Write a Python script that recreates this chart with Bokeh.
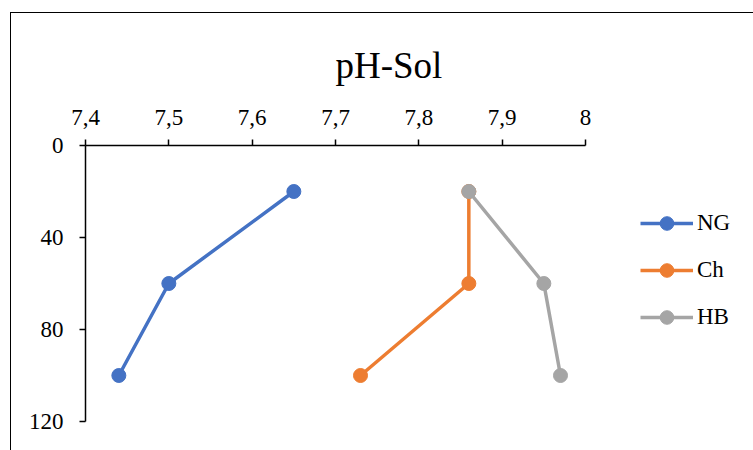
from bokeh.plotting import figure
from bokeh.models import Range1d, Legend, LegendItem, FixedTicker
from bokeh.embed import file_html
from bokeh.resources import INLINE

depth = [20, 60, 100]
ng = [7.65, 7.50, 7.44]
ch = [7.86, 7.86, 7.73]
hb = [7.86, 7.95, 7.97]
series_names = ["NG", "Ch", "HB"]
colors = ["#4472C4", "#ED7D31", "#A5A5A5"]
x_ticks = [7.4, 7.5, 7.6, 7.7, 7.8, 7.9, 8.0]
x_tick_labels = ["7,4", "7,5", "7,6", "7,7", "7,8", "7,9", "8"]
y_ticks = [0, 40, 80, 120]

FONT = "Liberation Serif"

p = figure(width=742, height=437, frame_width=500, frame_height=276,
           output_backend="svg", toolbar_location=None,
           x_range=Range1d(7.4, 8.0), y_range=Range1d(120, 0),
           x_axis_location="above",
           min_border_left=74, min_border_right=168, min_border_top=132, min_border_bottom=29,
           styles={"margin-left": "10px", "margin-top": "12px",
                   "border-left": "1.5px solid black", "border-top": "1.5px solid black"})

p.title.text = "pH-Sol"
p.title.text_font = FONT
p.title.text_font_size = "37px"
p.title.text_font_style = "normal"
p.title.align = "left"
p.title.offset = 250
p.title.standoff = 42
p.title.text_color = "black"

p.outline_line_color = None
p.xgrid.grid_line_color = None
p.ygrid.grid_line_color = None

for ax in (p.xaxis[0], p.yaxis[0]):
    ax.axis_line_color = "black"
    ax.axis_line_width = 1.5
    ax.major_tick_line_color = "black"
    ax.major_tick_line_width = 1.5
    ax.major_tick_out = 6
    ax.major_tick_in = 0
    ax.minor_tick_line_color = None
    ax.major_label_text_font = FONT
    ax.major_label_text_font_size = "23px"
    ax.major_label_text_color = "black"

p.xaxis[0].ticker = FixedTicker(ticks=x_ticks)
p.xaxis[0].major_label_overrides = {t: l for t, l in zip(x_ticks, x_tick_labels)}
p.xaxis[0].major_label_standoff = 15
p.yaxis[0].ticker = FixedTicker(ticks=y_ticks)
p.yaxis[0].major_label_standoff = 16

items = []
for name, vals, c in zip(series_names, [ng, ch, hb], colors):
    r1 = p.line(vals, depth, line_color=c, line_width=3.5)
    r2 = p.scatter(vals, depth, size=14, fill_color=c, line_color=c)
    items.append(LegendItem(label=name, renderers=[r1, r2]))

legend = Legend(items=items, location=(55, 87), orientation="vertical",
                glyph_width=53, glyph_height=34, label_height=34, spacing=13,
                label_standoff=4, padding=0, margin=0,
                border_line_color=None, background_fill_alpha=0,
                label_text_font=FONT, label_text_font_size="23px", label_text_color="black")
p.add_layout(legend, "right")

open("out.html", "w").write(file_html(p, INLINE))
